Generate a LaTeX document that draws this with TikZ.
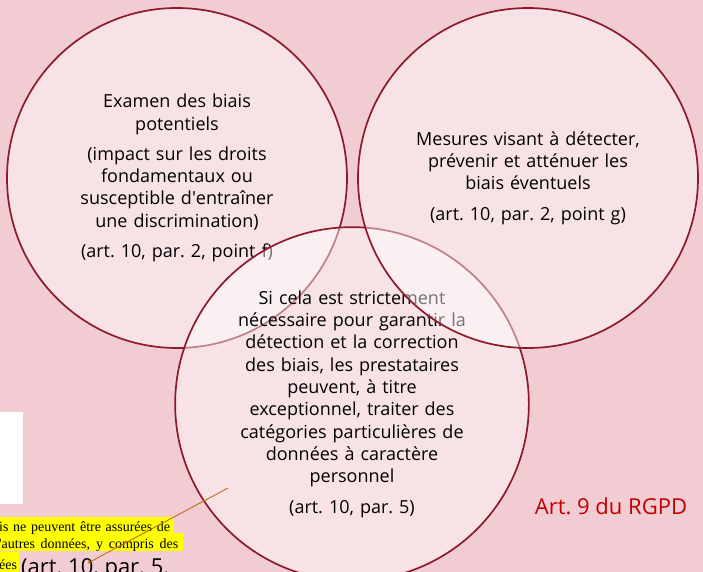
\documentclass[tikz,border=0pt]{standalone}
\usepackage{fontspec}
\setmainfont{Open Sans}
\newfontfamily\notefont{Liberation Serif}
\usetikzlibrary{calc,arrows}
\definecolor{bgpink}{RGB}{241,205,211}
\definecolor{ringred}{RGB}{140,26,44}
\definecolor{arroworange}{RGB}{197,106,20}
\definecolor{rgpdred}{RGB}{192,0,0}
\definecolor{marker}{RGB}{255,255,0}

\begin{document}
\begin{tikzpicture}[x=1pt,y=-1pt,
  bubble/.style={circle, draw=ringred, line width=1.7pt, fill=white, fill opacity=.45, text opacity=1,
    minimum size=340pt, align=center, text width=260pt, font=\fontsize{18}{22.3}\selectfont},
  notetext/.style={anchor=base west, inner sep=0pt, font=\notefont\fontsize{14}{16}\selectfont}]

\useasboundingbox (0,0) rectangle (703,572);
\fill[bgpink] (0,0) rectangle (703,572);
\clip (0,0) rectangle (703,572);

\node[bubble] (examen) at (177,178) {Examen des biais\\potentiels\\[8pt](impact sur les droits\\fondamentaux ou\\susceptible d\textquotesingle entraîner\\une discrimination)\\[8pt](art.~10, par.~2, point f)};

\node[bubble] (derog) at (352,404) {Si cela est strictement\\nécessaire pour garantir la\\détection et la correction\\des biais, les prestataires\\peuvent, à titre\\exceptionnel, traiter des\\catégories particulières de\\données à caractère\\personnel\\[8pt](art.~10, par.~5)};

\node[bubble] (mesures) at (528,178) {Mesures visant à détecter,\\prévenir et atténuer les\\biais éventuels\\[8pt](art.~10, par.~2, point g)};

\fill[white] (0,412) rectangle (23,504);

\fill[marker] (0,517) rectangle (174,533);
\fill[marker] (0,533) rectangle (183,551);
\fill[marker] (0,552) rectangle (19,572);
\node[notetext] (notea) at (-1,531) {\makebox[171pt][s]{is ne peuvent être assurées de}};
\node[notetext] (noteb) at (-1,548) {\makebox[179pt][s]{\textquotesingle autres données, y compris des}};
\node[notetext] (notec) at (-1,569) {ées};
\node[anchor=base west, inner sep=0pt, font=\fontsize{22}{26}\selectfont] (noteart) at (21,574) {(art.~10, par.~5.};

\coordinate (tail) at (228,488);
\coordinate (tip) at (88,563);
\draw[arroworange, line width=.9pt, ->, >=to] (tail) -- (tip);

\node[text=rgpdred, font=\fontsize{22}{26}\selectfont] (rgpd) at (611,506) {Art.~9 du RGPD};

\end{tikzpicture}
\end{document}
